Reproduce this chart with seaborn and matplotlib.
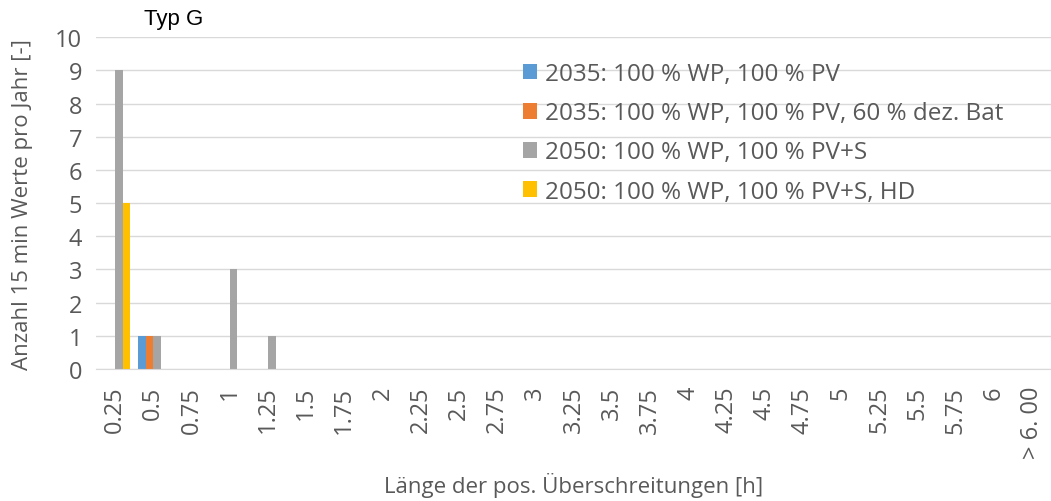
import pandas as pd
import matplotlib
matplotlib.use("Agg")
import matplotlib.pyplot as plt
import seaborn as sns
from matplotlib.ticker import MultipleLocator, FixedLocator

# categories (length of positive exceedances in hours)
categories = ["0.25", "0.5", "0.75", "1", "1.25", "1.5", "1.75", "2", "2.25", "2.5",
              "2.75", "3", "3.25", "3.5", "3.75", "4", "4.25", "4.5", "4.75", "5",
              "5.25", "5.5", "5.75", "6", "> 6. 00"]

series_names = ["2035: 100 % WP, 100 % PV",
                "2035: 100 % WP, 100 % PV, 60 % dez. Bat",
                "2050: 100 % WP, 100 % PV+S",
                "2050: 100 % WP, 100 % PV+S, HD"]

vals_2035 = [0, 1] + [0] * 23
vals_2035_bat = [0, 1] + [0] * 23
vals_2050 = [9, 1, 0, 3, 1] + [0] * 20
vals_2050_hd = [5] + [0] * 24

colors = ["#5B9BD5", "#ED7D31", "#A5A5A5", "#FFC000"]

rows = []
for name, vals in zip(series_names, [vals_2035, vals_2035_bat, vals_2050, vals_2050_hd]):
    for c, v in zip(categories, vals):
        rows.append({"Kategorie": c, "Szenario": name, "Wert": v})
df = pd.DataFrame(rows)

sns.set_style("white")
plt.rcParams["font.family"] = ["Open Sans", "DejaVu Sans"]

fig = plt.figure(figsize=(10.51, 5.02), dpi=100)
ax = fig.add_axes([0.0913, 0.263, 0.9087, 0.661])

sns.barplot(data=df, x="Kategorie", y="Wert", hue="Szenario", order=categories,
            hue_order=series_names, palette=colors, width=0.8, gap=0,
            linewidth=0, saturation=1, ax=ax)

txt = "#595959"
ax.set_ylim(0, 10)
ax.set_xlim(-0.5, len(categories) - 0.5)
ax.yaxis.set_major_locator(MultipleLocator(1))
ax.grid(axis="y", color="#D9D9D9", linewidth=1)
ax.set_axisbelow(True)
for s in ["left", "right", "top"]:
    ax.spines[s].set_visible(False)
ax.spines["bottom"].set_color("#D9D9D9")
ax.spines["bottom"].set_zorder(3)

ax.tick_params(axis="y", length=0, labelsize=17, labelcolor=txt, pad=10)
ax.tick_params(axis="x", which="major", length=0, labelsize=17, labelcolor=txt,
               labelrotation=90, pad=12)
ax.xaxis.set_minor_locator(FixedLocator([i - 0.5 for i in range(len(categories) + 1)]))
ax.tick_params(axis="x", which="minor", length=6, color="#D9D9D9", width=1)
for lbl in ax.get_xticklabels():
    lbl.set_verticalalignment("top")

ax.set_xlabel("Länge der pos. Überschreitungen [h]", fontsize=16, color=txt, labelpad=10)
ax.set_ylabel("Anzahl 15 min Werte pro Jahr [-]", fontsize=16, color=txt, labelpad=16)

fig.text(0.137, 0.962, "Typ G", fontsize=16, family="Liberation Sans", color="black",
         ha="left", va="center")

leg = ax.legend(loc="upper left", bbox_to_anchor=(0.424, 0.99), frameon=False,
                fontsize=17.5, handlelength=0.6, handleheight=0.6, handletextpad=0.3,
                labelspacing=0.62, labelcolor=txt)

fig.savefig("out.png", dpi=100)
